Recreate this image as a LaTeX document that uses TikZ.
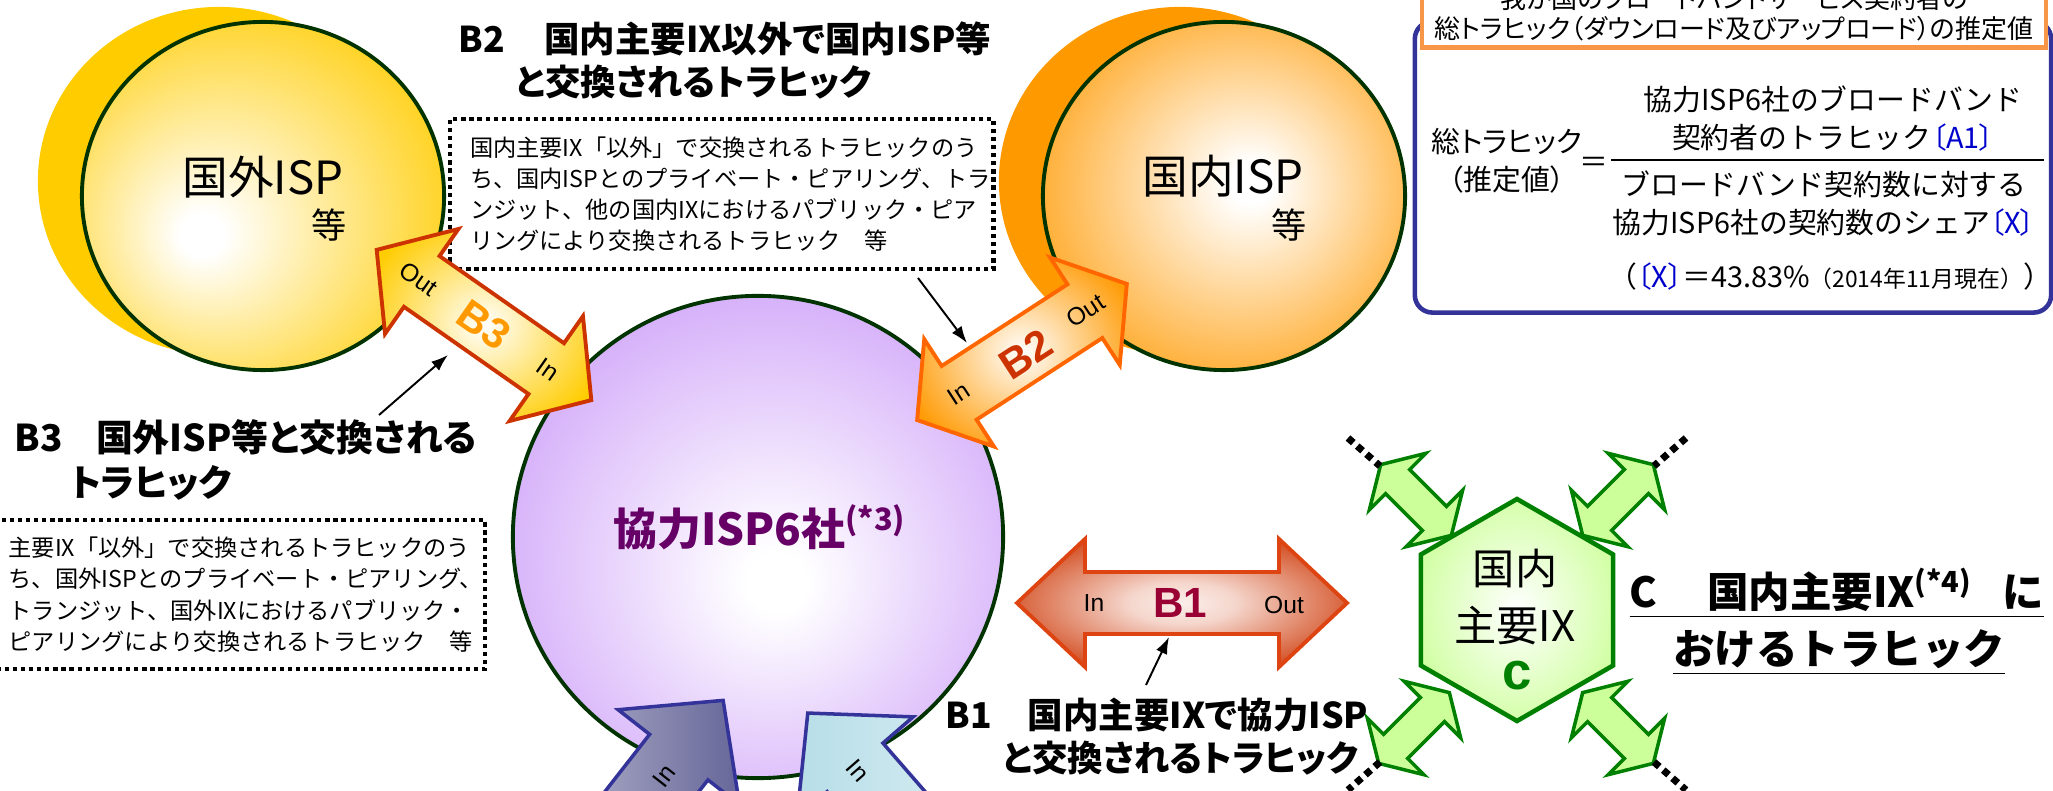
\documentclass[tikz,border=0pt]{standalone}
\usepackage{fontspec}
\setmainfont{Noto Sans CJK JP}
\newfontfamily\propjp{Noto Sans CJK JP}[RawFeature=+palt]
\newfontfamily\latn{Liberation Sans}
\usetikzlibrary{calc,shapes.geometric,arrows.meta}

\definecolor{ylw}{HTML}{FFCC00}
\definecolor{orng}{HTML}{FF9900}
\definecolor{prpl}{HTML}{C896F8}
\definecolor{rim}{HTML}{003300}
\definecolor{rust}{HTML}{CC3300}
\definecolor{bedge}{HTML}{DD4411}
\definecolor{flame}{HTML}{FF6600}
\definecolor{crim}{HTML}{990033}
\definecolor{plum}{HTML}{660066}
\definecolor{navy2}{HTML}{333399}
\definecolor{lime}{HTML}{CCFF99}
\definecolor{grn}{HTML}{008000}
\definecolor{slate}{HTML}{666699}
\definecolor{aqua}{HTML}{B7DEE8}
\definecolor{peach}{HTML}{F79646}
\definecolor{blu}{HTML}{0000CC}

\pgfdeclareradialshading{ylwglow}{\pgfpoint{-9bp}{-6bp}}{color(0bp)=(white);color(3bp)=(white);color(34bp)=(ylw);color(50bp)=(ylw)}
\pgfdeclareradialshading{orgglow}{\pgfpoint{4bp}{2bp}}{color(0bp)=(white);color(3bp)=(white);color(34bp)=(orng);color(50bp)=(orng)}
\pgfdeclareradialshading{prpglow}{\pgfpoint{2bp}{-5bp}}{color(0bp)=(white);color(3bp)=(white);color(36bp)=(prpl);color(50bp)=(prpl)}
\pgfdeclareradialshading{limeglow}{\pgfpoint{0bp}{0bp}}{color(0bp)=(white);color(30bp)=(lime);color(50bp)=(lime)}
\pgfdeclareradialshading{bthreeglow}{\pgfpoint{0bp}{0bp}}{color(0bp)=(white);color(6bp)=(white!80!ylw);color(30bp)=(ylw);color(50bp)=(ylw)}
\pgfdeclareradialshading{btwoglow}{\pgfpoint{0bp}{0bp}}{color(0bp)=(white);color(6bp)=(white!80!orng);color(30bp)=(orng);color(50bp)=(orng)}
\pgfdeclareradialshading{boneglow}{\pgfpoint{0bp}{0bp}}{color(0bp)=(white!92!rust);color(8bp)=(white!80!rust);color(32bp)=(rust);color(50bp)=(rust)}

% double block arrow along x: half length, head length, head half width, shaft half width
\newcommand{\dblpath}[4]{(-#1,0) -- ++(#2,#3) -- ++(0,#4-#3) -- (#1-#2,#4) -- ++(0,#3-#4) -- (#1,0) -- ++(-#2,-#3) -- ++(0,#3-#4) -- (-#1+#2,-#4) -- ++(0,#4-#3) -- cycle}

\tikzset{
  ispball/.style={ellipse, minimum width=3.62cm, minimum height=3.48cm, inner sep=0pt},
  rimmed/.style={draw=rim, line width=1.1pt, shade},
  bigtxt/.style={font=\fontsize{13}{13}\selectfont, inner sep=0pt},
  etctxt/.style={font=\fontsize{10}{10}\selectfont, inner sep=0pt},
  capt/.style={font=\propjp\bfseries\fontsize{10.1}{12.3}\selectfont, align=left, inner sep=0pt},
  notebox/.style={draw, line width=1.2pt, dash pattern=on 1.2pt off 1.1pt, fill=white,
    font=\fontsize{6.6}{8.9}\selectfont, align=left, inner xsep=0.2cm, inner ysep=0pt},
  inout/.style={font=\latn\fontsize{7}{7}\selectfont, inner sep=0pt},
  btag/.style={font=\latn\bfseries\fontsize{12}{12}\selectfont, inner sep=0pt},
  ptr/.style={-{Latex[length=4.8pt,width=3.4pt]}, line width=0.55pt},
  fml/.style={font=\fontsize{8.2}{10.8}\selectfont, align=center, inner sep=0pt},
  ixarrow/.style={fill=lime, draw=grn, line width=1pt},
  ixdots/.style={line width=2pt, dash pattern=on 2pt off 1.5pt},
  bluearrow/.style={draw=navy2, line width=1pt}
}

\begin{document}
\begin{tikzpicture}[x=0.01cm, y=0.01cm]
  \useasboundingbox (0,0) rectangle (2053,-791);
  \clip (0,0) rectangle (2053,-791);

  % ISP balls
  \node[ispball, fill=ylw] (gaiback) at (219,-181) {};
  \node[ispball, rimmed, shading=ylwglow] (gai) at (263,-196) {};
  \node[bigtxt] (gaitxt) at (263,-177) {国外ISP};
  \node[etctxt] (gaietc) at (329,-225) {等};
  \node[ispball, fill=orng] (naiback) at (1180,-181) {};
  \node[ispball, rimmed, shading=orgglow] (nai) at (1224,-196) {};
  \node[bigtxt] (naitxt) at (1223,-176) {国内ISP};
  \node[etctxt] (naietc) at (1289,-225) {等};
  \node[ellipse, minimum width=4.9cm, minimum height=4.82cm, rimmed, shading=prpglow] (kyo) at (758,-537) {};
  \node[text=plum, font=\bfseries\fontsize{12.5}{12.5}\selectfont, inner sep=0pt] (kyotxt) at (760,-527) {協力ISP6社\textsuperscript{(*3)}};

  % B2 caption and note
  \node[capt, anchor=north west] (b2title) at (458,-21) {B2\hspace{1.1em}国内主要IX以外で国内ISP等\\\hspace*{1.6em}と交換されるトラヒック};
  \node[notebox, text width=5.03cm, minimum height=1.5cm, anchor=north west] (b2note) at (448,-117) {国内主要IX「以外」で交換されるトラヒックのう\\ち、国内ISPとのプライベート・ピアリング、トラ\\ンジット、他の国内IXにおけるパブリック・ピア\\リングにより交換されるトラヒック　等};

  % B3 caption and note
  \node[capt, font=\propjp\bfseries\fontsize{10.5}{12.8}\selectfont, anchor=north west] (b3title) at (14,-419) {B3\hspace{0.9em}国外ISP等と交換される\\\hspace*{1.5em}トラヒック};
  \node[notebox, text width=4.56cm, minimum height=1.49cm, anchor=north east] (b3note) at (487,-518) {主要IX「以外」で交換されるトラヒックのう\\ち、国外ISPとのプライベート・ピアリング、\\トランジット、国外IXにおけるパブリック・\\ピアリングにより交換されるトラヒック　等};

  % B3 arrow
  \begin{scope}[shift={(484,-325)}, rotate=-35]
    \path[draw=rust, line width=1.1pt, shade, shading=bthreeglow] \dblpath{131}{55}{64}{31};
    \node[btag, text=orng, rotate=-35] (b3tag) at (0,0) {B3};
    \node[inout, rotate=-35] (b3out) at (-80,0) {Out};
    \node[inout, rotate=-35] (b3in) at (78,0) {In};
  \end{scope}

  % B2 arrow
  \begin{scope}[shift={(1022,-352)}, rotate=33]
    \path[draw=flame, line width=1.1pt, shade, shading=btwoglow] \dblpath{125}{50}{64}{32};
    \node[btag, text=rust, rotate=33] (b2tag) at (2,-4) {B2};
    \node[inout, rotate=33] (b2in) at (-76,0) {In};
    \node[inout, rotate=33] (b2out) at (76,0) {Out};
  \end{scope}

  % B1 arrow
  \begin{scope}[shift={(1182,-603)}]
    \path[draw=bedge, line width=1.1pt, shade, shading=boneglow] \dblpath{165}{68}{64}{31};
    \node[btag, text=crim] (b1tag) at (-2,0) {B1};
    \node[inout] (b1in) at (-88,0) {In};
    \node[inout] (b1out) at (102,-2) {Out};
  \end{scope}

  % pointers
  \coordinate (b3from) at (379,-415);
  \coordinate (b3to) at (448,-355);
  \coordinate (b2from) at (918,-278);
  \coordinate (b2to) at (967,-343);
  \coordinate (b1from) at (1146,-685);
  \coordinate (b1to) at (1169,-637);
  \draw[ptr] (b3from) -- (b3to);
  \draw[ptr] (b2from) -- (b2to);
  \draw[ptr] (b1from) -- (b1to);

  % formula box
  \node[draw=navy2, line width=1.3pt, rounded corners=5pt, minimum width=6.36cm, minimum height=2.91cm, inner sep=0pt] (sumbox) at (1733,-167) {};
  \node[draw=peach, line width=1.3pt, fill=white, anchor=south, minimum width=6.24cm, inner ysep=2pt, align=center, font=\propjp\fontsize{7.4}{8.5}\selectfont] (headbox) at (1734,-50) {我が国のブロードバンドサービス契約者の\\総トラヒック（ダウンロード及びアップロード）の推定値};
  \node[fml, font=\propjp\fontsize{8.2}{10.8}\selectfont] (lhs) at (1507,-161) {総トラヒック\\（推定値）};
  \node[fml] (eqsign) at (1594,-165) {＝};
  \node[fml] (numer) at (1833,-119) {協力ISP6社のブロードバンド\\契約者のトラヒック\textcolor{blu}{\propjp 〔A1〕}};
  \node[fml] (denom) at (1824,-204) {ブロードバンド契約数に対する\\協力ISP6社の契約数のシェア\textcolor{blu}{\propjp 〔X〕}};
  \draw[line width=0.8pt] (1611,-160) -- (2044,-160);
  \node[fml] (share) at (1830,-277) {（\textcolor{blu}{\propjp 〔X〕}＝43.83\%{\fontsize{6.5}{6.5}\selectfont（2014年11月現在）}）};

  % IX hexagon
  \begin{scope}[shift={(1517,-610)}]
    \path[draw=grn, line width=1.3pt, shade, shading=limeglow] (90:111) -- (150:111) -- (210:111) -- (270:111) -- (330:111) -- (30:111) -- cycle;
  \end{scope}
  \node[font=\fontsize{12}{16.2}\selectfont, align=center, inner sep=0pt] (ixtxt) at (1515,-597) {国内\\主要IX};
  \node[text=grn, font=\latn\bfseries\fontsize{15}{15}\selectfont, inner sep=0pt] (ixc) at (1517,-676) {c};
  \foreach \cx/\cy/\ang in {1416/-500/-45, 1618/-500/45, 1414/-728/45, 1618/-728/-45}{
    \begin{scope}[shift={(\cx,\cy)}, rotate=\ang]
      \path[ixarrow] \dblpath{50}{24}{40}{17};
    \end{scope}
  }
  \foreach \ax/\ay/\bx/\by in {1348/-438/1380/-466, 1686/-438/1654/-466, 1380/-762/1348/-790, 1654/-762/1686/-790}{
    \draw[ixdots] (\ax,\ay) -- (\bx,\by);
  }
  \node[capt, font=\bfseries\fontsize{11.8}{16.2}\selectfont, anchor=north west] (ctitle) at (1629,-567) {\underline{C\hspace{1.2em}国内主要IX\textsuperscript{(*4)}\hspace{0.7em}に}\\\hspace*{1.05em}\underline{おけるトラヒック}};

  % B1 caption
  \node[capt, anchor=north west] (b1title) at (945,-697) {B1\hspace{1.0em}国内主要IXで協力ISP\\\hspace*{1.6em}と交換されるトラヒック};

  % arrows from below
  \begin{scope}[shift={(600,-858)}, rotate=52]
    \path[bluearrow, left color=slate!25, right color=slate] \dblpath{200}{72}{77}{37};
    \node[inout, rotate=52] (inleft) at (104,0) {In};
  \end{scope}
  \begin{scope}[shift={(939,-864)}, rotate=131]
    \path[bluearrow, left color=aqua, right color=aqua!30] \dblpath{200}{72}{77}{37};
    \node[inout, rotate=-49] (inright) at (124,0) {In};
  \end{scope}
\end{tikzpicture}
\end{document}
